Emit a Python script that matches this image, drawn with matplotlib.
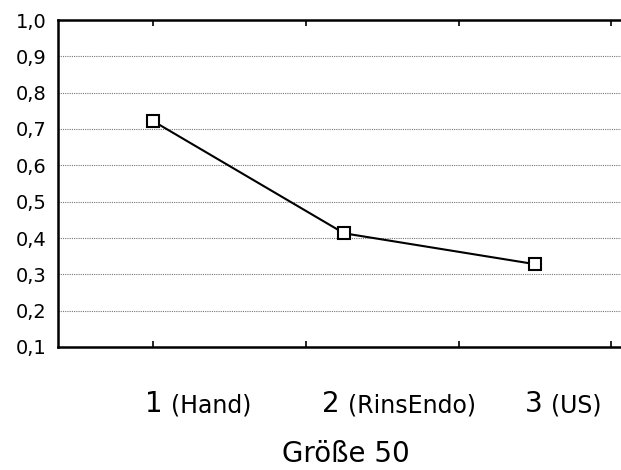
import matplotlib
matplotlib.use("Agg")
import matplotlib.pyplot as plt

plt.rcParams['font.family'] = ['DejaVu Sans']

# data
groups = [1, 2, 3]
values = [0.722, 0.413, 0.328]
group_nums = ["1", "2", "3"]
group_names = ["(Hand)", "(RinsEndo)", "(US)"]
y_ticks = [0.1, 0.2, 0.3, 0.4, 0.5, 0.6, 0.7, 0.8, 0.9, 1.0]
x_ticks = [1.0, 1.8, 2.6, 3.4]
xlabel = "Größe 50"

# where each category label starts (data x)
label_x = [0.958, 1.885, 2.948]

fig = plt.figure(figsize=(6.21, 4.70), dpi=100)
ax = fig.add_axes([58 / 621, 1 - 347 / 470, 1 - 58 / 621, (347 - 20) / 470])

ax.plot(groups, values, color="black", lw=1.5, marker="s", ms=8,
        mfc="white", mec="black", mew=1.5, zorder=3)

ax.set_xlim(0.503, 3.45)
ax.set_ylim(0.1, 1.0)
ax.set_yticks(y_ticks)
ax.set_yticklabels([f"{v:.1f}".replace(".", ",") for v in y_ticks], fontsize=14)
ax.set_xticks(x_ticks)
ax.set_xticklabels([])
ax.tick_params(axis="x", direction="in", length=4, width=1.2, top=True)
ax.tick_params(axis="y", direction="in", length=0, pad=8.5)
ax.grid(axis="y", linestyle=(0, (1, 1)), color="#777777", lw=0.8)

for s in ["left", "bottom", "top"]:
    ax.spines[s].set_linewidth(1.8)
ax.spines["right"].set_visible(False)

# category labels below the axis
for lx, num, name in zip(label_x, group_nums, group_names):
    ax.annotate(num, xy=(lx, 0), xycoords=("data", "axes fraction"),
                xytext=(0, -46.8), textcoords="offset points",
                ha="left", va="baseline", fontsize=20)
    ax.annotate(name, xy=(lx, 0), xycoords=("data", "axes fraction"),
                xytext=(18.5, -46.8), textcoords="offset points",
                ha="left", va="baseline", fontsize=17)

fig.text(346 / 621, 1 - 462 / 470, xlabel, ha="center", va="baseline", fontsize=20)

fig.savefig("out.png", dpi=100)
